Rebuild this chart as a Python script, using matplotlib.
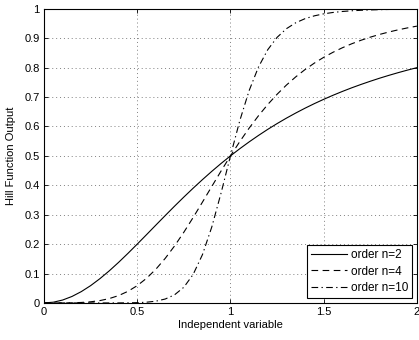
import matplotlib
matplotlib.use('Agg')
import matplotlib.pyplot as P

# values
x = [0.0, 0.05, 0.1, 0.15, 0.2, 0.25, 0.3, 0.35, 0.4, 0.45, 0.5, 0.55, 0.6, 0.65, 0.7,
     0.75, 0.8, 0.85, 0.9, 0.95, 1.0, 1.05, 1.1, 1.15, 1.2, 1.25, 1.3, 1.35, 1.4, 1.45,
     1.5, 1.55, 1.6, 1.65, 1.7, 1.75, 1.8, 1.85, 1.9, 1.95, 2.0]
order2 = [0.0, 0.0025, 0.0099, 0.022, 0.0385, 0.0588, 0.0826, 0.1091, 0.1379, 0.1684,
          0.2, 0.2322, 0.2647, 0.297, 0.3289, 0.36, 0.3902, 0.4194, 0.4475, 0.4744,
          0.5, 0.5244, 0.5475, 0.5694, 0.5902, 0.6098, 0.6283, 0.6457, 0.6622, 0.6777,
          0.6923, 0.7061, 0.7191, 0.7314, 0.7429, 0.7538, 0.7642, 0.7739, 0.7831, 0.7918, 0.8]
order4 = [0.0, 0.0, 0.0001, 0.0005, 0.0016, 0.0039, 0.008, 0.0148, 0.025, 0.0394,
          0.0588, 0.0838, 0.1147, 0.1515, 0.1936, 0.2404, 0.2906, 0.343, 0.3962, 0.4489,
          0.5, 0.5486, 0.5942, 0.6362, 0.6747, 0.7094, 0.7407, 0.7686, 0.7935, 0.8155,
          0.8351, 0.8523, 0.8676, 0.8811, 0.8931, 0.9037, 0.913, 0.9213, 0.9287, 0.9353, 0.9412]
order10 = [0.0, 0.0, 0.0, 0.0, 0.0, 0.0, 0.0, 0.0, 0.0001, 0.0003,
           0.001, 0.0025, 0.006, 0.0133, 0.0275, 0.0533, 0.097, 0.1645, 0.2585, 0.3745,
           0.5, 0.6196, 0.7217, 0.8018, 0.861, 0.903, 0.9324, 0.9526, 0.9666, 0.9762,
           0.983, 0.9877, 0.991, 0.9934, 0.9951, 0.9963, 0.9972, 0.9979, 0.9984, 0.9987, 0.999]
labels = ['order n=2', 'order n=4', 'order n=10']
xticks = [0, 0.5, 1, 1.5, 2]
xticklabels = ['0', '0.5', '1', '1.5', '2']
yticks = [0, 0.1, 0.2, 0.3, 0.4, 0.5, 0.6, 0.7, 0.8, 0.9, 1]
yticklabels = ['0', '0.1', '0.2', '0.3', '0.4', '0.5', '0.6', '0.7', '0.8', '0.9', '1']

P.rcParams['font.family'] = ['Liberation Sans', 'DejaVu Sans']
P.rcParams['font.size'] = 8

fig = P.figure(figsize=(4.19, 3.4), dpi=100)
ax = fig.add_axes((0.105, 0.109, 0.89, 0.865))

ax.plot(x, order2, color='black', lw=0.8, ls='-', label=labels[0])
ax.plot(x, order4, color='black', lw=0.8, ls=(0, (6, 4)), label=labels[1])
ax.plot(x, order10, color='black', lw=0.8, ls=(0, (6, 3, 1.2, 3)), label=labels[2])

ax.set_xlim(0, 2)
ax.set_ylim(0, 1)
ax.set_xticks(xticks)
ax.set_xticklabels(xticklabels)
ax.set_yticks(yticks)
ax.set_yticklabels(yticklabels)
ax.tick_params(direction='in', length=3, width=0.6, top=True, right=True, pad=3)
for s in ax.spines.values():
    s.set_linewidth(0.8)
ax.grid(True, ls=(0, (1, 3)), color='0.5', lw=0.7)

ax.set_xlabel('Independent variable', labelpad=2)
ax.set_ylabel('Hill Function Output', labelpad=6)

leg = ax.legend(loc='lower right', fancybox=False, framealpha=1, edgecolor='black',
                handlelength=3.0, handletextpad=0.35, borderpad=0.35, labelspacing=0.38,
                borderaxespad=0.4, fontsize=8.5)
leg.get_frame().set_linewidth(0.8)

P.savefig('out.png', dpi=100)
